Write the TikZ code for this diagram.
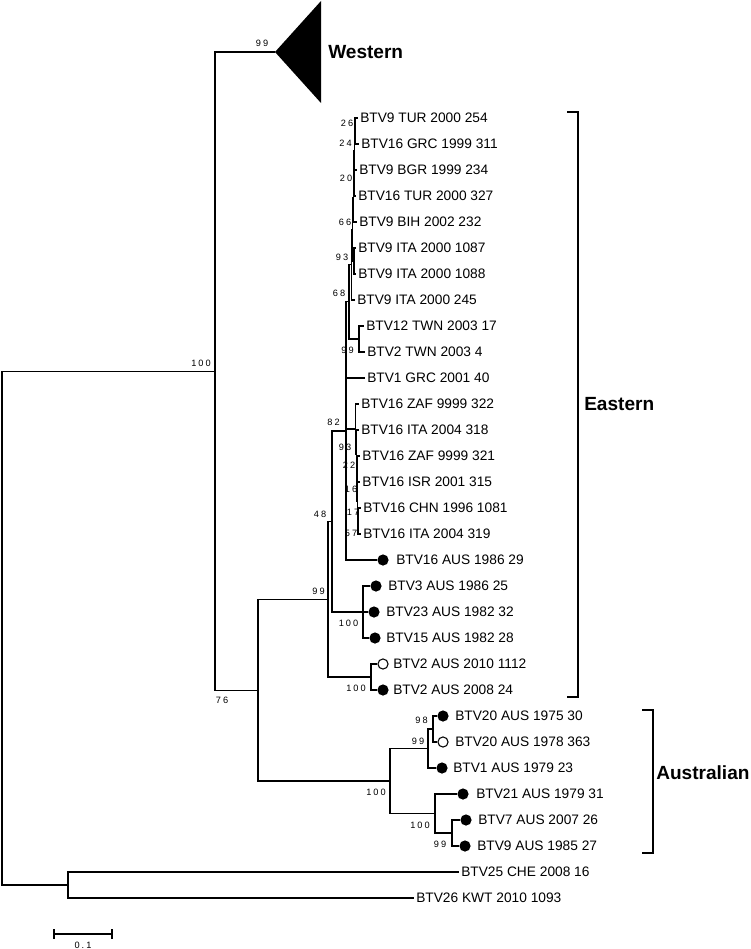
\documentclass[tikz,border=0pt]{standalone}
\usepackage{fontspec}
\setmainfont{Liberation Sans}
\newfontfamily\bootfont[LetterSpace=22]{Liberation Sans}
\usetikzlibrary{positioning}

\tikzset{
  branch/.style={line width=1pt},
  tip/.style={anchor=west, inner sep=1.5pt, font=\fontsize{10.3pt}{12pt}\selectfont,
    text height=7.4pt, text depth=0pt},
  boot/.style={inner sep=0pt, font=\bootfont\fontsize{6.9pt}{8pt}\selectfont,
    text height=4.9pt, text depth=0pt},
  isolate/.style={circle, fill=black, minimum size=8.4pt, inner sep=0pt},
  novel/.style={circle, draw=black, fill=white, line width=0.8pt, minimum size=7.6pt, inner sep=0pt},
  clade/.style={anchor=west, inner sep=0pt, font=\fontsize{14.3pt}{16pt}\selectfont\bfseries,
    text height=10.3pt, text depth=0pt},
  bracket/.style={line width=0.9pt},
  scalebar/.style={line width=1.6pt}
}

\begin{document}
\begin{tikzpicture}[x=0.75pt, y=-0.75pt]

    % page
    \fill[white] (0,0) rectangle (750,949);
    \useasboundingbox (0,0) rectangle (750,949);

    % Taxa without marker
    \foreach \k/\name/\tx in {0/BTV9 TUR 2000 254/361, 1/BTV16 GRC 1999 311/362,
        2/BTV9 BGR 1999 234/360, 3/BTV16 TUR 2000 327/359, 4/BTV9 BIH 2002 232/360,
        5/BTV9 ITA 2000 1087/359, 6/BTV9 ITA 2000 1088/359, 7/BTV9 ITA 2000 245/358,
        8/BTV12 TWN 2003 17/367, 9/BTV2 TWN 2003 4/368, 10/BTV1 GRC 2001 40/368,
        11/BTV16 ZAF 9999 322/362, 12/BTV16 ITA 2004 318/362, 13/BTV16 ZAF 9999 321/363,
        14/BTV16 ISR 2001 315/363, 15/BTV16 CHN 1996 1081/364, 16/BTV16 ITA 2004 319/364,
        29/BTV25 CHE 2008 16/462, 30/BTV26 KWT 2010 1093/417}
        \node[tip] (t\k) at ({\tx-3},{118+26*\k}) {\name};

    % Australian isolates (filled)
    \foreach \k/\name/\dx/\tx in {17/BTV16 AUS 1986 29/383/397, 18/BTV3 AUS 1986 25/376/389,
        19/BTV23 AUS 1982 32/374/387, 20/BTV15 AUS 1982 28/375/387, 22/BTV2 AUS 2008 24/383/394,
        23/BTV20 AUS 1975 30/443/456, 25/BTV1 AUS 1979 23/442/454, 26/BTV21 AUS 1979 31/463/477,
        27/BTV7 AUS 2007 26/466/479, 28/BTV9 AUS 1985 27/465/478}
    {
        \node[isolate] (d\k) at (\dx,{118+26*\k}) {};
        \node[tip] (t\k) at ({\tx-3},{118+26*\k}) {\name};
    }

    % Australian isolates (open)
    \foreach \k/\name/\dx/\tx in {21/BTV2 AUS 2010 1112/383/394, 24/BTV20 AUS 1978 363/443/456}
    {
        \node[novel] (d\k) at (\dx,{118+26*\k}) {};
        \node[tip] (t\k) at ({\tx-3},{118+26*\k}) {\name};
    }

    % Internal nodes
    \coordinate (root) at (2,628);
    \coordinate (n100) at (215,371.25);
    \coordinate (nout) at (68,885);
    \coordinate (wapex) at (275,52);
    \coordinate (n76) at (258,690.5);
    \coordinate (n99e) at (328,599.5);
    \coordinate (n48) at (332,521.5);
    \coordinate (n82) at (346,431);
    \coordinate (n68) at (349,301.75);
    \coordinate (ntwn) at (359,339);
    \coordinate (nx) at (351.5,264.6);
    \coordinate (n93u) at (352.5,229.25);
    \coordinate (nita) at (354,261);
    \coordinate (n66) at (353.5,197.6);
    \coordinate (n20) at (354,173.25);
    \coordinate (n24) at (354.5,150.5);
    \coordinate (n26) at (355,131);
    \coordinate (n93l) at (355.5,429);
    \coordinate (n22) at (356.5,454.4);
    \coordinate (n16) at (357,478.75);
    \coordinate (n17) at (357.5,501.5);
    \coordinate (n57) at (358,521);
    \coordinate (n100a) at (363,612);
    \coordinate (n100b) at (371,677);
    \coordinate (naus) at (390,781);
    \coordinate (n99a) at (428,748.5);
    \coordinate (n98) at (433,729);
    \coordinate (n100c) at (435,813.5);
    \coordinate (n99b) at (452,833);

    % Collapsed Western clade
    \fill (wapex) -- (321,1) -- (321,103) -- cycle;
    \node[clade] (west) at (328,52) {Western};

    % Branches
    \draw[branch] (root) |- (n100) (root) |- (nout);
    \draw[branch] (nout) |- (t29) (nout) |- (t30);
    \draw[branch] (n100) |- (wapex) (n100) |- (n76);
    \draw[branch] (n76) |- (n99e) (n76) |- (naus);
    \draw[branch] (n99e) |- (n48) (n99e) |- (n100b);
    \draw[branch] (n48) |- (n82) (n48) |- (n100a);
    \draw[branch] (n82) |- (n68) (n82) |- (t10) (n82) |- (n93l) (n82) |- (d17);
    \draw[branch] (n68) |- (nx) (n68) |- (ntwn);
    \draw[branch] (ntwn) |- (t8) (ntwn) |- (t9);
    \draw[branch] (nx) |- (n93u) (nx) |- (t7);
    \draw[branch] (n93u) |- (n66) (n93u) |- (nita);
    \draw[branch] (nita) |- (t5) (nita) |- (t6);
    \draw[branch] (n66) |- (n20) (n66) |- (t4);
    \draw[branch] (n20) |- (n24) (n20) |- (t3);
    \draw[branch] (n24) |- (n26) (n24) |- (t2);
    \draw[branch] (n26) |- (t0) (n26) |- (t1);
    \draw[branch] (n93l) |- (t11) (n93l) |- (n22);
    \draw[branch] (n22) |- (t12) (n22) |- (n16);
    \draw[branch] (n16) |- (t13) (n16) |- (n17);
    \draw[branch] (n17) |- (t14) (n17) |- (n57);
    \draw[branch] (n57) |- (t15) (n57) |- (t16);
    \draw[branch] (n100a) |- (d18) (n100a) |- (d19) (n100a) |- (d20);
    \draw[branch] (n100b) |- (d21) (n100b) |- (d22);
    \draw[branch] (naus) |- (n99a) (naus) |- (n100c);
    \draw[branch] (n99a) |- (n98) (n99a) |- (d25);
    \draw[branch] (n98) |- (d23) (n98) |- (d24);
    \draw[branch] (n100c) |- (d26) (n100c) |- (n99b);
    \draw[branch] (n99b) |- (d27) (n99b) |- (d28);

    % Bootstrap values
    \foreach \bx/\by/\bv [count=\i] in {262/43/99, 201/363/100, 347/123/26, 345.5/143/24,
        346/178/20, 345/222/66, 342/257/93, 339/293/68, 347.5/350/99, 333.5/422/82,
        345/447/93, 349/465/22, 351/489/16, 353/512/17, 351/533/57, 320/514/48,
        318.5/591/99, 348.5/623/100, 356/688/100, 222/700/76, 376/792/100,
        421.5/720/98, 418/741/99, 420/825/100, 440/844/99}
        \node[boot] (bs\i) at (\bx,\by) {\bv};

    % Clade brackets
    \draw[bracket] (567,112) -- (578,112) -- (578,697) -- (567,697);
    \node[clade] (east) at (584,404) {Eastern};
    \draw[bracket] (642,710) -- (653,710) -- (653,853) -- (642,853);
    \node[clade] (aus) at (656,773) {Australian};

    % Scale bar
    \draw[scalebar] (54,934) -- (112,934);
    \draw[scalebar] (54,929) -- (54,939);
    \draw[scalebar] (112,929) -- (112,939);
    \node[boot] (sbar) at (83,945) {0.1};

\end{tikzpicture}
\end{document}
